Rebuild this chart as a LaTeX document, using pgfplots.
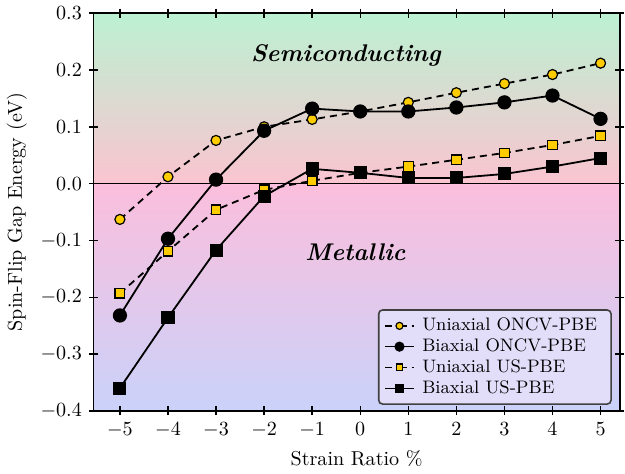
\documentclass[border=0pt]{standalone}
\usepackage{pgfplots}
\pgfplotsset{compat=1.18}
\definecolor{topg}{RGB}{188,241,210}
\definecolor{midp}{RGB}{250,196,208}
\definecolor{pinkb}{RGB}{251,190,220}
\definecolor{violm}{RGB}{232,193,236}
\definecolor{botl}{RGB}{202,210,250}
\definecolor{legbg}{RGB}{226,222,250}
\definecolor{mkyel}{RGB}{255,204,0}
\begin{document}
\begin{tikzpicture}
\begin{axis}[
  scale only axis,
  width=262pt, height=198pt,
  xmin=-5.55, xmax=5.4,
  ymin=-0.4, ymax=0.3,
  xtick={-5,-4,...,5},
  ytick={-0.4,-0.3,...,0.3},
  yticklabel style={/pgf/number format/.cd,fixed,fixed zerofill,precision=1},
  tick align=center,
  major tick length=4.5pt,
  tick style={black, line width=0.7pt},
  axis line style={line width=0.8pt},
  xlabel={Strain Ratio \%},
  ylabel={Spin-Flip Gap Energy (eV)},
  axis on top,
  legend pos=south east,
  legend cell align=left,
  legend style={draw=black!75, line width=0.8pt, rounded corners=2pt, fill=legbg, font=\small, row sep=-1.5pt, at={(0.985,0.015)}, nodes={inner xsep=4pt}},
  legend image post style={line width=0.7pt, every mark/.append style={scale=0.7}},
  legend image code/.code={\draw[#1] (0pt,0pt) -- (7pt,0pt) plot coordinates {(7pt,0pt)} -- (14pt,0pt);},
  every axis plot/.append style={line width=0.9pt},
]
\fill[top color=topg, bottom color=midp] (axis cs:-6,0) rectangle (axis cs:6,0.3);
\fill[top color=pinkb, middle color=violm, bottom color=botl] (axis cs:-6,-0.4) rectangle (axis cs:6,0);
\draw[black, line width=0.8pt] (axis cs:-6,0) -- (axis cs:6,0);
\node[font=\large\bfseries\itshape] at (axis cs:-0.3,0.226) {Semiconducting};
\node[font=\large\bfseries\itshape] at (axis cs:-0.1,-0.121) {Metallic};

\addplot[black, dashed, dash pattern=on 3.5pt off 2.5pt, mark=*, mark size=2.5pt, mark options={solid, fill=mkyel, draw=black, line width=0.6pt}] coordinates {
(-5,-0.063) (-4,0.012) (-3,0.076) (-2,0.100) (-1,0.113) (0,0.127) (1,0.143) (2,0.160) (3,0.176) (4,0.192) (5,0.212)};
\addlegendentry{Uniaxial ONCV-PBE}
\addplot[black, solid, mark=*, mark size=3.1pt, mark options={fill=black}] coordinates {
(-5,-0.232) (-4,-0.097) (-3,0.007) (-2,0.093) (-1,0.132) (0,0.127) (1,0.127) (2,0.134) (3,0.143) (4,0.155) (5,0.114)};
\addlegendentry{Biaxial ONCV-PBE}
\addplot[black, dashed, dash pattern=on 3.5pt off 2.5pt, mark=square*, mark size=2.4pt, mark options={solid, fill=mkyel, draw=black, line width=0.6pt}] coordinates {
(-5,-0.193) (-4,-0.119) (-3,-0.046) (-2,-0.011) (-1,0.005) (0,0.019) (1,0.030) (2,0.042) (3,0.054) (4,0.068) (5,0.084)};
\addlegendentry{Uniaxial US-PBE}
\addplot[black, solid, mark=square*, mark size=2.8pt, mark options={fill=black}] coordinates {
(-5,-0.360) (-4,-0.236) (-3,-0.117) (-2,-0.022) (-1,0.026) (0,0.019) (1,0.010) (2,0.010) (3,0.017) (4,0.030) (5,0.045)};
\addlegendentry{Biaxial US-PBE}
\end{axis}
\end{tikzpicture}
\end{document}
